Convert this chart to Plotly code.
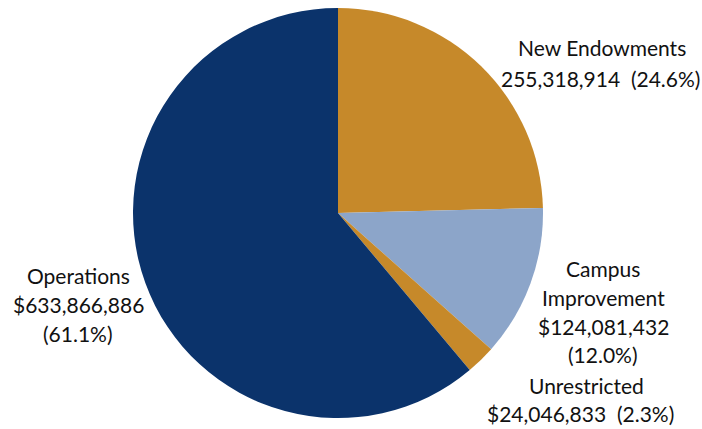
import plotly.graph_objects as go

labels = ["New Endowments", "Campus Improvement", "Unrestricted", "Operations"]
values = [255318914, 124081432, 24046833, 633866886]
colors = ["#C6892A", "#8CA5C9", "#C6892A", "#0B336B"]

W, H = 702, 429
total = sum(values)
pct = [f"({v / total * 100:.1f}%)" for v in values]
money = [f"{values[0]:,}", f"${values[1]:,}", f"${values[2]:,}", f"${values[3]:,}"]
gap = " \u00a0"

# label lines per slice, with pixel centres (x, y from top)
label_lines = [
    [("New Endowments", 602, 48), (f"{money[0]}{gap}{pct[0]}", 600, 79)],
    [("Campus", 603, 268), ("Improvement", 603, 297), (money[1], 603, 326), (pct[1], 603, 354)],
    [("Unrestricted", 586, 385), (f"{money[2]}{gap}{pct[2]}", 580, 413)],
    [("Operations", 78, 275), (money[3], 78, 304), (pct[3], 78, 333)],
]

cx, cy, r = 338, 213, 205

fig = go.Figure(
    go.Pie(
        labels=labels,
        values=values,
        sort=False,
        direction="clockwise",
        rotation=0,
        marker=dict(colors=colors, line=dict(width=0)),
        textinfo="none",
        hoverinfo="label+value+percent",
        domain=dict(
            x=[(cx - r) / W, (cx + r) / W],
            y=[(H - cy - r) / H, (H - cy + r) / H],
        ),
    )
)

annotations = []
for lines in label_lines:
    for text, x, y in lines:
        annotations.append(
            dict(
                text=text,
                x=x / W,
                y=1 - y / H,
                xref="paper",
                yref="paper",
                xanchor="center",
                yanchor="middle",
                showarrow=False,
                font=dict(family="Lato", size=21, color="#111111"),
            )
        )

fig.update_layout(
    width=W,
    height=H,
    margin=dict(l=0, r=0, t=0, b=0),
    paper_bgcolor="white",
    plot_bgcolor="white",
    showlegend=False,
    annotations=annotations,
)

fig.write_html(
    "out.html",
    config={"displayModeBar": False},
    post_script="document.body.style.margin='0';",
)
